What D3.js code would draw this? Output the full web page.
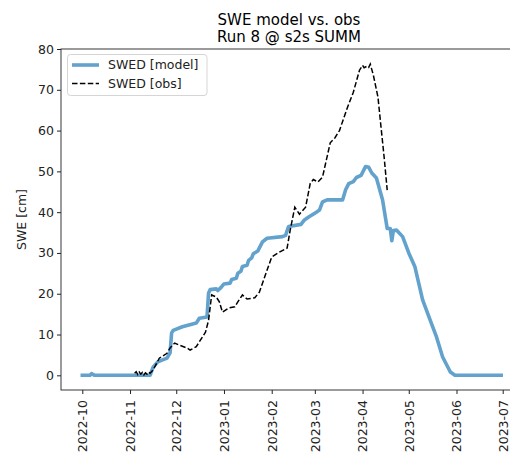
<!DOCTYPE html>
<html>
<head>
<meta charset="utf-8">
<script src="https://cdn.jsdelivr.net/npm/d3@7"></script>
<style>
  body { margin: 0; background: #fff; overflow: hidden; }
  svg { display: block; font-family: "DejaVu Sans", sans-serif; }
</style>
</head>
<body>
<svg id="chart"></svg>
<script>
// model series (daily)
let modelDates = ["2022-10-01","2022-10-06","2022-10-07","2022-10-09","2022-11-14","2022-11-16","2022-11-19","2022-11-25","2022-11-27","2022-11-28","2022-11-29","2022-12-05","2022-12-14","2022-12-16","2022-12-21","2022-12-22","2022-12-23","2022-12-27","2022-12-28","2022-12-30","2023-01-01","2023-01-05","2023-01-06","2023-01-09","2023-01-10","2023-01-12","2023-01-13","2023-01-16","2023-01-17","2023-01-19","2023-01-20","2023-01-23","2023-01-26","2023-01-29","2023-02-08","2023-02-10","2023-02-12","2023-02-20","2023-02-22","2023-02-25","2023-03-02","2023-03-04","2023-03-06","2023-03-09","2023-03-19","2023-03-21","2023-03-23","2023-03-26","2023-03-28","2023-03-31","2023-04-02","2023-04-03","2023-04-05","2023-04-07","2023-04-10","2023-04-14","2023-04-17","2023-04-19","2023-04-20","2023-04-21","2023-04-23","2023-04-27","2023-05-01","2023-05-05","2023-05-10","2023-05-16","2023-05-19","2023-05-23","2023-05-28","2023-05-31","2023-06-30"]
let modelValues = [0,0,0.4,0,0,2,3.3,4.2,5.5,10.4,11,11.9,12.8,14,14.3,20.2,21,21.2,20.8,21.5,22.4,22.6,23.5,23.8,25,25.5,26.7,27,28.2,28.8,29.8,30.5,32.7,33.6,34,34.3,36.5,37,38,38.8,40,40.5,42.5,43,43,45.5,47,47.5,48.5,49,50.5,51.2,51,49.6,48.4,43,36,36,33,35.5,35.6,34,30,26.6,18.5,12.4,9.4,4.5,0.8,0,0]

// obs series
let obsDates = ["2022-11-04","2022-11-05","2022-11-06","2022-11-07","2022-11-08","2022-11-09","2022-11-10","2022-11-11","2022-11-12","2022-11-13","2022-11-14","2022-11-16","2022-11-20","2022-11-25","2022-11-27","2022-11-30","2022-12-03","2022-12-08","2022-12-10","2022-12-14","2022-12-16","2022-12-20","2022-12-22","2022-12-24","2022-12-27","2022-12-29","2022-12-31","2023-01-04","2023-01-08","2023-01-10","2023-01-13","2023-01-16","2023-01-21","2023-01-24","2023-01-29","2023-02-01","2023-02-06","2023-02-11","2023-02-13","2023-02-16","2023-02-19","2023-02-23","2023-02-26","2023-02-28","2023-03-03","2023-03-06","2023-03-11","2023-03-14","2023-03-17","2023-03-22","2023-03-26","2023-03-30","2023-04-01","2023-04-02","2023-04-04","2023-04-05","2023-04-06","2023-04-08","2023-04-11","2023-04-13","2023-04-15","2023-04-17"]
let obsValues = [0.5,0.9,0.2,0.8,0.3,0.7,0.1,0.6,0.3,0.8,0.5,1.3,4.2,5.4,6.7,7.9,7.4,6.7,6.2,7,8.2,10.6,13.5,19.7,19.2,18,15.5,16.5,16.8,18,19.7,18.7,19,20.4,25.8,29,30.2,31.2,35.6,41.2,39.5,41.2,47,48,47.4,48.6,57,58.2,60,65.5,69.4,74.8,76,75.4,75.8,75.5,76.3,73.6,68.2,60.8,53.5,45.4]

let yTicks = [0,10,20,30,40,50,60,70,80]
let xTickLabels = ["2022-10","2022-11","2022-12","2023-01","2023-02","2023-03","2023-04","2023-05","2023-06","2023-07"]

let width = 510
let height = 456
let fontSize = '12.5px'
let parse = d3.utcParse("%Y-%m-%d")

let svg = d3.select('#chart').attr('width', width).attr('height', height)

let xScale = d3.scaleUtc()
    .domain([parse("2022-10-01"), parse("2023-07-01")])
    .range([82.3, 502.7])
let yScale = d3.scaleLinear()
    .domain([-3.6, 80])
    .range([390, 49])

let padLeft = 61, padRight = 524, padTop = 49, padBottom = 390

// title
svg.append('text').attr('x', 289).attr('y', 25).attr('text-anchor', 'middle')
    .style('font-size', '15px').attr('fill', '#000').text('SWE model vs. obs')
svg.append('text').attr('x', 289).attr('y', 42).attr('text-anchor', 'middle')
    .style('font-size', '15px').attr('fill', '#000').text('Run 8 @ s2s SUMM')

// lines
let model = modelDates.map((d, i) => [parse(d), modelValues[i]])
let obs = obsDates.map((d, i) => [parse(d), obsValues[i]])
let line = d3.line().x(d => xScale(d[0])).y(d => yScale(d[1]))

svg.append('path').datum(model)
    .attr('d', line)
    .attr('fill', 'none')
    .attr('stroke', '#62a2cd')
    .attr('stroke-width', 3.6)
    .attr('stroke-linejoin', 'round')
    .attr('stroke-linecap', 'square')

svg.append('path').datum(obs)
    .attr('d', line)
    .attr('fill', 'none')
    .attr('stroke', '#000')
    .attr('stroke-width', 1.5)
    .attr('stroke-dasharray', '5.5,2.4')

// axes
let yAxis = d3.axisLeft(yScale).tickValues(yTicks).tickSize(4).tickPadding(3)
let gy = svg.append('g').attr('transform', 'translate(' + padLeft + ',0)').call(yAxis)
gy.select('.domain').remove()
gy.selectAll('text').style('font-size', fontSize).attr('fill', '#222').attr('font-family', 'DejaVu Sans')
gy.selectAll('line').attr('stroke', '#222')

let xAxis = d3.axisBottom(xScale)
    .tickValues(xTickLabels.map(t => parse(t + "-01")))
    .tickFormat(d3.utcFormat("%Y-%m"))
    .tickSize(4)
let gx = svg.append('g').attr('transform', 'translate(0,' + padBottom + ')').call(xAxis)
gx.select('.domain').remove()
gx.selectAll('line').attr('stroke', '#222')
gx.selectAll('text')
    .style('font-size', fontSize)
    .attr('fill', '#222')
    .attr('font-family', 'DejaVu Sans')
    .attr('transform', 'rotate(-90)')
    .attr('text-anchor', 'end')
    .attr('x', -10)
    .attr('y', 0)
    .attr('dy', '0.35em')

// spines
svg.append('rect')
    .attr('x', padLeft).attr('y', padTop)
    .attr('width', padRight - padLeft).attr('height', padBottom - padTop)
    .attr('fill', 'none').attr('stroke', '#222').attr('stroke-width', 0.9)

// y label
svg.append('text')
    .attr('transform', 'translate(26,' + ((padTop + padBottom) / 2) + ') rotate(-90)')
    .attr('text-anchor', 'middle')
    .style('font-size', fontSize)
    .attr('fill', '#222')
    .text('SWE [cm]')

// legend
let lg = svg.append('g')
lg.append('rect').attr('x', 67.5).attr('y', 54.5).attr('width', 139.5).attr('height', 41)
    .attr('rx', 3).attr('fill', '#fff').attr('fill-opacity', 0.8)
    .attr('stroke', '#d5d5d5').attr('stroke-width', 1)
lg.append('line').attr('x1', 72).attr('x2', 99).attr('y1', 65).attr('y2', 65)
    .attr('stroke', '#62a2cd').attr('stroke-width', 3.6)
lg.append('line').attr('x1', 72).attr('x2', 99).attr('y1', 83.5).attr('y2', 83.5)
    .attr('stroke', '#000').attr('stroke-width', 1.5).attr('stroke-dasharray', '5.5,2.4')
lg.append('text').attr('x', 108).attr('y', 69.3).style('font-size', fontSize).attr('fill', '#222').text('SWED [model]')
lg.append('text').attr('x', 108).attr('y', 87.8).style('font-size', fontSize).attr('fill', '#222').text('SWED [obs]')
</script>
</body>
</html>
